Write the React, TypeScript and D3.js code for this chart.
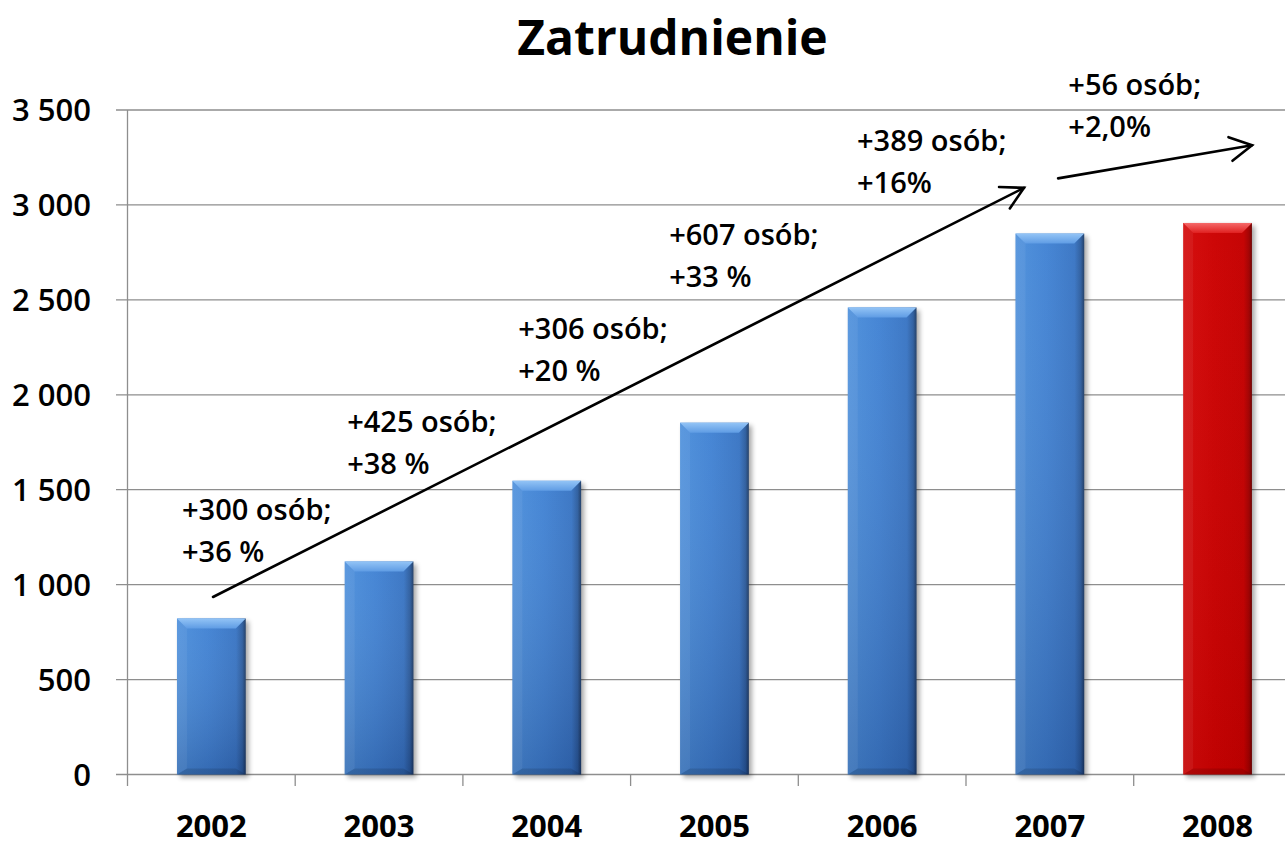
import React from "react";
import * as d3 from "d3";

// data
const categories = ["2002", "2003", "2004", "2005", "2006", "2007", "2008"];
const employees = [822, 1122, 1547, 1853, 2460, 2849, 2905];
const highlighted = ["2008"];
const yTicks = [0, 500, 1000, 1500, 2000, 2500, 3000, 3500];

// growth notes: text lines, anchored at (category index, value)
const noteLines = [
  ["+300 osób;", "+36 %"],
  ["+425 osób;", "+38 %"],
  ["+306 osób;", "+20 %"],
  ["+607 osób;", "+33 %"],
  ["+389 osób;", "+16%"],
  ["+56 osób;", "+2,0%"],
];
const noteIndex = [0.325, 1.31, 2.33, 3.23, 4.35, 5.61];
const noteValue = [1340, 1804, 2294, 2789, 3284, 3579];

// trend arrows: [startIndex, startValue, endIndex, endValue]
const arrows = [
  [0.51, 935, 5.346, 3090],
  [5.549, 3140, 6.706, 3314],
];

const W = 1285;
const H = 847;
const FONT = "'Open Sans', 'Noto Sans', sans-serif";

const locale = d3.formatLocale({
  decimal: ",",
  thousands: " ",
  grouping: [3],
  currency: ["", ""],
});
const fmt = locale.format(",d");

export default function App() {
  const x0 = 127.5;
  const x1 = 1301.4;
  const x = d3
    .scaleBand<string>()
    .domain(categories)
    .range([x0, x1])
    .paddingInner(0.59)
    .paddingOuter(0.295);
  const xi = d3.scaleLinear().domain([0, categories.length]).range([x0, x1]);
  const y = d3.scaleLinear().domain([0, 3500]).range([774.5, 110]);

  const bw = x.bandwidth();
  const bev = 10;

  const arrowHead = (ax: number, ay: number, bx: number, by: number) => {
    const ang = Math.atan2(by - ay, bx - ax);
    const len = 25;
    const spread = 0.5;
    const p1 = [bx - len * Math.cos(ang - spread), by - len * Math.sin(ang - spread)];
    const p2 = [bx - len * Math.cos(ang + spread), by - len * Math.sin(ang + spread)];
    return `M${p1[0]},${p1[1]}L${bx},${by}L${p2[0]},${p2[1]}`;
  };

  return (
    <svg
      width={W}
      height={H}
      style={{ position: "absolute", left: 0, top: 0, background: "#fff" }}
      fontFamily={FONT}
    >
      <defs>
        <linearGradient id="blueBody" x1="0" x2="1" y1="0" y2="0">
          <stop offset="0" stopColor="#4a8edb" />
          <stop offset="0.45" stopColor="#3f81d3" />
          <stop offset="0.86" stopColor="#3673c3" />
          <stop offset="0.95" stopColor="#2a5b9d" />
          <stop offset="1" stopColor="#1b3963" />
        </linearGradient>
        <linearGradient id="redBody" x1="0" x2="1" y1="0" y2="0">
          <stop offset="0" stopColor="#d40a0a" />
          <stop offset="0.45" stopColor="#cc0202" />
          <stop offset="0.88" stopColor="#c40000" />
          <stop offset="0.96" stopColor="#a00000" />
          <stop offset="1" stopColor="#6a0000" />
        </linearGradient>
        <linearGradient id="shade" x1="0" x2="0" y1="0" y2="1">
          <stop offset="0" stopColor="#ffffff" stopOpacity="0.04" />
          <stop offset="1" stopColor="#000020" stopOpacity="0.18" />
        </linearGradient>
        <linearGradient id="shadeRed" x1="0" x2="0" y1="0" y2="1">
          <stop offset="0" stopColor="#ffffff" stopOpacity="0.02" />
          <stop offset="1" stopColor="#000000" stopOpacity="0.06" />
        </linearGradient>
        <linearGradient id="blueTop" x1="0" x2="0" y1="0" y2="1">
          <stop offset="0" stopColor="#93c4f6" />
          <stop offset="1" stopColor="#5f9ce4" />
        </linearGradient>
        <linearGradient id="redTop" x1="0" x2="0" y1="0" y2="1">
          <stop offset="0" stopColor="#f56a6a" />
          <stop offset="1" stopColor="#e02020" />
        </linearGradient>
        <filter id="blur" x="-20%" y="-20%" width="140%" height="140%">
          <feGaussianBlur stdDeviation="2.5" />
        </filter>
      </defs>

      {/* gridlines */}
      {yTicks.map((t) => (
        <line
          key={"g" + t}
          x1={116}
          x2={W}
          y1={y(t)}
          y2={y(t)}
          stroke="#8e8e8e"
          strokeWidth={1.3}
        />
      ))}

      {/* y axis */}
      <line x1={x0} x2={x0} y1={y(3500)} y2={786} stroke="#8e8e8e" strokeWidth={1.3} />
      {yTicks.map((t) => (
        <text
          key={"yl" + t}
          x={91}
          y={y(t) + 11}
          textAnchor="end"
          fontSize={31}
          fontWeight={600}
          fill="#000"
        >
          {fmt(t)}
        </text>
      ))}

      {/* category ticks */}
      {d3.range(1, categories.length).map((i) => (
        <line
          key={"xt" + i}
          x1={xi(i)}
          x2={xi(i)}
          y1={y(0)}
          y2={786}
          stroke="#8e8e8e"
          strokeWidth={1.3}
        />
      ))}

      {/* bars */}
      {categories.map((c, i) => {
        const bx = x(c)!;
        const by = y(employees[i]);
        const bh = y(0) - by;
        const red = highlighted.includes(c);
        return (
          <g key={c}>
            <rect
              x={bx + 3}
              y={by + 3}
              width={bw}
              height={bh}
              fill="#000"
              opacity={0.35}
              filter="url(#blur)"
            />
            <rect x={bx} y={by} width={bw} height={bh} fill={red ? "url(#redBody)" : "url(#blueBody)"} />
            <rect x={bx} y={by} width={bw} height={bh} fill={red ? "url(#shadeRed)" : "url(#shade)"} />
            <path
              d={`M${bx},${by}L${bx + bw},${by}L${bx + bw - bev},${by + bev}L${bx + bev},${by + bev}Z`}
              fill={red ? "url(#redTop)" : "url(#blueTop)"}
            />
            <path
              d={`M${bx},${by + bh}L${bx + bw},${by + bh}L${bx + bw - bev},${by + bh - 6}L${bx + bev},${by + bh - 6}Z`}
              fill="#000"
              opacity={0.12}
            />
            <path
              d={`M${bx},${by}L${bx + bev},${by + bev}L${bx + bev},${by + bh - 6}L${bx},${by + bh}Z`}
              fill="#fff"
              opacity={0.06}
            />
          </g>
        );
      })}

      {/* x labels */}
      {categories.map((c) => (
        <text
          key={"xl" + c}
          x={x(c)! + bw / 2}
          y={837}
          textAnchor="middle"
          fontSize={31}
          fontWeight={700}
          fill="#000"
        >
          {c}
        </text>
      ))}

      {/* trend arrows */}
      {arrows.map((a, i) => {
        const ax = xi(a[0]);
        const ay = y(a[1]);
        const bx = xi(a[2]);
        const by = y(a[3]);
        return (
          <g key={"ar" + i} stroke="#000" strokeWidth={2.6} fill="none" strokeLinecap="round">
            <line x1={ax} y1={ay} x2={bx} y2={by} />
            <path d={arrowHead(ax, ay, bx, by)} strokeLinejoin="miter" />
          </g>
        );
      })}

      {/* growth notes */}
      {noteLines.map((lines, i) => (
        <text
          key={"n" + i}
          x={xi(noteIndex[i])}
          y={y(noteValue[i])}
          fontSize={29}
          fontWeight={600}
          fill="#000"
        >
          {lines.map((l, j) => (
            <tspan key={j} x={xi(noteIndex[i])} dy={j === 0 ? 0 : 42}>
              {l}
            </tspan>
          ))}
        </text>
      ))}

      {/* title */}
      <text x={672.5} y={55} textAnchor="middle" fontSize={48} fontWeight={700} fill="#000">
        Zatrudnienie
      </text>
    </svg>
  );
}
